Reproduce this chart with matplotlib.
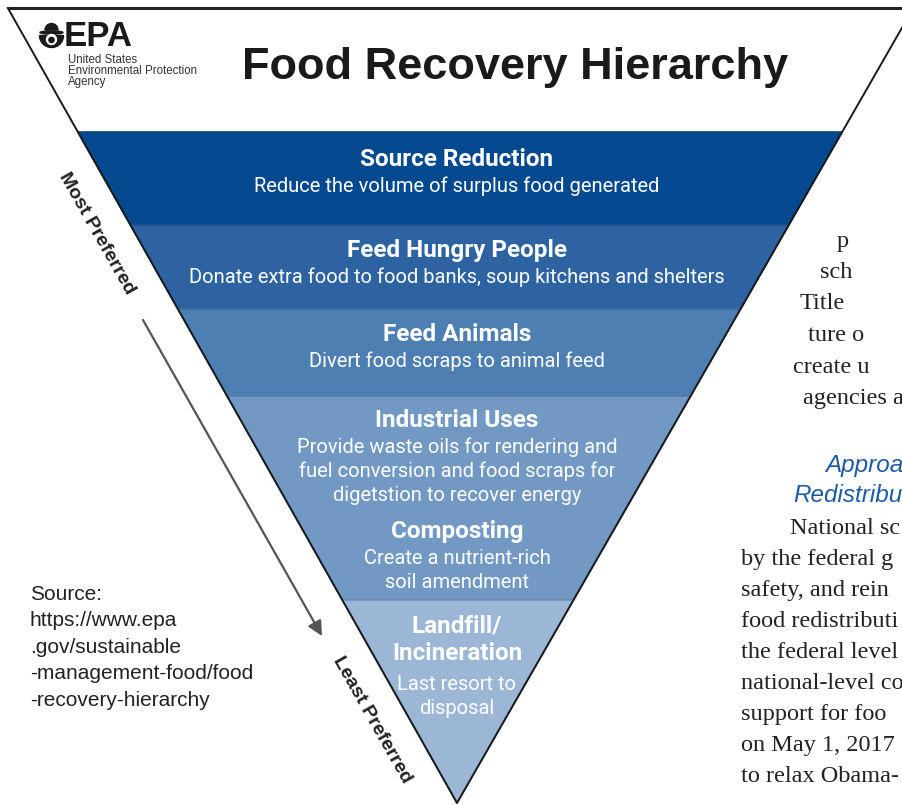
import matplotlib
matplotlib.use('Agg')
import matplotlib.pyplot as plt
from matplotlib.patches import Polygon, Circle, Wedge, Ellipse

# ─── Data ──────────────────────────────────────────────────────────────────────
tier_colors = ['#03498f', '#2d63a0', '#4e7fb2', '#7199c3', '#9bb7d5']
tier_edges = ['#033f7c', '#1f5592', '#3b6ea5', '#4f7fb3', '#6f95c0']
tier_bounds = [132, 225, 309, 396, 600, 803]   # pixel rows of the band limits

headings = ['Source Reduction', 'Feed Hungry People', 'Feed Animals',
            'Industrial Uses', 'Composting', 'Landfill/\nIncineration']
notes = [
    'Reduce the volume of surplus food generated',
    'Donate extra food to food banks, soup kitchens and shelters',
    'Divert food scraps to animal feed',
    'Provide waste oils for rendering and\nfuel conversion and food scraps for\ndigetstion to recover energy',
    'Create a nutrient-rich\nsoil amendment',
    'Last resort to\ndisposal',
]

agency_lines = ['United States', 'Environmental Protection', 'Agency']
source_lines = ['Source:', 'https://www.epa', '.gov/sustainable',
                '-management-food/food', '-recovery-hierarchy']
body_lines = ['p', 'sch', 'Title', 'ture o', 'create u', 'agencies a']
body_x = [837, 820, 800, 808, 793, 803]
head_lines = ['Approa', 'Redistribu']
head_x = [825, 793]
body2_lines = ['National sc', 'by the federal g', 'safety, and rein',
               'food redistributi', 'the federal level', 'national-level co',
               'support for foo', 'on May 1, 2017', 'to relax Obama-']
body2_x = [790, 741, 741, 741, 741, 741, 741, 741, 741]

# ─── Geometry helpers ──────────────────────────────────────────────────────────
APEX_X, APEX_Y = 457, 803
SL, SR = 0.565, 0.574


def left_x(y):
    return APEX_X - (APEX_Y - y) * SL


def right_x(y):
    return APEX_X + (APEX_Y - y) * SR


def stacked(x, y_top, text, step, **kw):
    """Draw multiline text one line at a time, first line centred on y_top."""
    for k, line in enumerate(text.split('\n')):
        ax.text(x, y_top + k * step, line, ha='center', va='center', **kw)


fig = plt.figure(figsize=(9.03, 8.05), dpi=100)
fig.patch.set_facecolor('white')
ax = fig.add_axes([0, 0, 1, 1])
ax.set_xlim(0, 903)
ax.set_ylim(805, 0)
ax.axis('off')

# bands
for i, col in enumerate(tier_colors):
    y0, y1 = tier_bounds[i], tier_bounds[i + 1]
    pts = [(left_x(y0), y0), (right_x(y0), y0), (right_x(y1), y1), (left_x(y1), y1)]
    ax.add_patch(Polygon(pts, closed=True, facecolor=col, edgecolor=tier_edges[i],
                         lw=1.2, zorder=2))

# outline
ax.plot([8, 903], [8, 8], color='#222222', lw=2.2, zorder=3, solid_capstyle='butt')
ax.plot([left_x(8), APEX_X, right_x(8)], [8, APEX_Y, 8], color='#1a1a1a', lw=1.4, zorder=3)

# band texts
BF = 'Roboto'
head_y = [159, 250, 334, 420, 531, 626]
note_y = [186, 277, 361, 447, 558, 684]
for i in range(len(headings)):
    stacked(APEX_X, head_y[i], headings[i], 27, color='white', fontsize=17.5,
            fontweight='bold', family=BF, zorder=4)
    stacked(APEX_X, note_y[i], notes[i], 24, color='white', fontsize=14.5,
            family=BF, zorder=4)

# title
ax.text(515, 68, 'Food Recovery Hierarchy', ha='center', va='center',
        fontsize=32.5, fontweight='bold', family='Liberation Sans', color='#1a1a1a')

# EPA logo (rough flower mark + wordmark); y axis is inverted, so 180-360 points up
ink = '#1a1a1a'
ax.add_patch(Wedge((51.5, 30), 6.5, 180, 360, color=ink, zorder=5))
ax.add_patch(Ellipse((51.5, 32.5), 23, 3.2, color=ink, zorder=5))
ax.add_patch(Wedge((51.5, 35.5), 12, 0, 180, color=ink, zorder=5))
ax.add_patch(Circle((51.5, 39.5), 5, color='white', zorder=6))
ax.add_patch(Circle((51.5, 40), 2.6, color=ink, zorder=7))
ax.text(64, 46.5, 'EPA', ha='left', va='baseline', fontsize=25, fontweight='bold',
        family='Liberation Sans', color=ink)
for k, s in enumerate(agency_lines):
    ax.text(68, 63 + k * 11, s, ha='left', va='baseline', fontsize=8.3,
            family='Liberation Sans', color='#333333')

# preference labels and arrow
ax.text(97, 234, 'Most Preferred', rotation=-60.5, ha='center', va='center',
        rotation_mode='anchor', fontsize=14, fontweight='bold',
        family='Liberation Sans', color='#222222')
ax.text(372, 720, 'Least Preferred', rotation=-60.5, ha='center', va='center',
        rotation_mode='anchor', fontsize=14, fontweight='bold',
        family='Liberation Sans', color='#222222')
ax.annotate('', xy=(322, 636), xytext=(143, 320),
            arrowprops=dict(arrowstyle='-|>', color='#555555', lw=1.6,
                            mutation_scale=22, shrinkA=0, shrinkB=0))

# source note
for k, s in enumerate(source_lines):
    ax.text(30, 594 + k * 26.6, s, ha='left', va='center', fontsize=15,
            family='Liberation Sans', color='#222222')

# clipped page text on the right
for s, x, y in zip(body_lines, body_x, [241, 272, 303, 335, 367, 398]):
    ax.text(x, y, s, ha='left', va='center', fontsize=17.5,
            family='Liberation Serif', color='#222222')
for s, x, y in zip(head_lines, head_x, [465, 495]):
    ax.text(x, y, s, ha='left', va='center', fontsize=17.5, style='italic',
            family='Liberation Sans', color='#1f5aa6')
for k, (s, x) in enumerate(zip(body2_lines, body2_x)):
    ax.text(x, 528 + k * 31, s, ha='left', va='center', fontsize=17.5,
            family='Liberation Serif', color='#222222')

plt.savefig('out.png', dpi=100, facecolor='white')
plt.close()
